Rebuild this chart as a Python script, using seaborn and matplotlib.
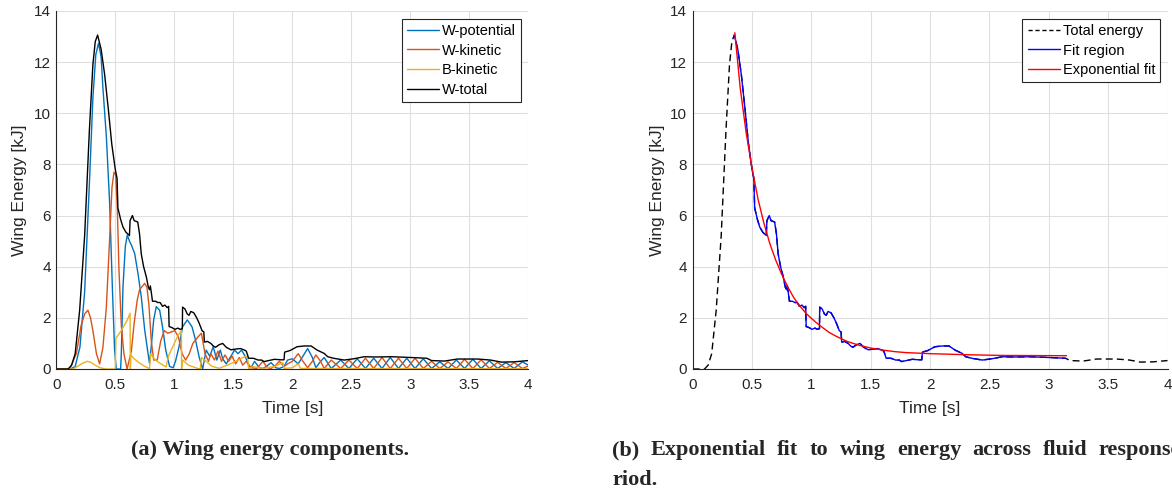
import matplotlib
matplotlib.use("Agg")
import matplotlib.pyplot as plt
import numpy as np
import pandas as pd
import seaborn as sns

# wing total energy [kJ] vs time [s]
w_total = [(0, 0), (0.10, 0), (0.13, 0.15), (0.16, 0.6), (0.198, 2.3), (0.24, 5.2), (0.28, 9.3),
           (0.31, 11.9), (0.33, 12.8), (0.35, 13.06), (0.38, 12.5), (0.41, 11.5), (0.44, 10.2),
           (0.47, 8.8), (0.50, 7.8), (0.515, 7.45), (0.522, 6.3), (0.545, 5.85), (0.565, 5.55),
           (0.59, 5.35), (0.62, 5.22), (0.625, 5.8), (0.645, 6.0), (0.66, 5.8), (0.69, 5.75),
           (0.705, 5.3), (0.72, 4.5), (0.74, 4.0), (0.763, 3.6), (0.78, 3.2), (0.79, 3.1),
           (0.797, 3.25), (0.805, 3.0), (0.815, 2.65), (0.84, 2.65), (0.86, 2.6), (0.88, 2.6),
           (0.90, 2.45), (0.92, 2.5), (0.94, 2.4), (0.952, 2.45), (0.956, 1.66), (0.98, 1.62),
           (1.005, 1.55), (1.03, 1.6), (1.05, 1.55), (1.068, 1.58), (1.07, 2.42), (1.09, 2.35),
           (1.11, 2.15), (1.125, 2.1), (1.14, 2.25), (1.165, 2.2), (1.19, 2.0), (1.21, 1.8),
           (1.235, 1.5), (1.25, 1.45), (1.255, 1.05), (1.28, 1.08), (1.31, 1.0), (1.33, 0.9),
           (1.35, 0.85), (1.38, 0.95), (1.41, 1.0), (1.44, 0.85), (1.48, 0.75), (1.52, 0.78),
           (1.56, 0.8), (1.59, 0.75), (1.61, 0.7), (1.63, 0.42), (1.67, 0.42), (1.71, 0.35),
           (1.74, 0.35), (1.76, 0.29), (1.80, 0.33), (1.85, 0.38), (1.90, 0.36), (1.93, 0.36),
           (1.935, 0.66), (1.98, 0.72), (2.04, 0.87), (2.10, 0.9), (2.16, 0.9), (2.21, 0.74),
           (2.27, 0.61), (2.30, 0.48), (2.35, 0.42), (2.44, 0.35), (2.52, 0.4), (2.61, 0.48),
           (2.70, 0.47), (2.84, 0.48), (2.95, 0.46), (3.05, 0.44), (3.14, 0.42), (3.18, 0.33),
           (3.29, 0.31), (3.40, 0.39), (3.57, 0.39), (3.68, 0.35), (3.77, 0.27), (3.88, 0.28),
           (4.0, 0.33)]

w_potential = [(0, 0), (0.12, 0), (0.16, 0.1), (0.20, 0.85), (0.24, 3.0), (0.28, 7.2), (0.31, 10.6),
               (0.335, 12.3), (0.358, 12.74), (0.38, 12.2), (0.395, 11.0), (0.424, 9.1), (0.452, 6.5),
               (0.475, 3.2), (0.494, 0.75), (0.508, 0), (0.545, 0), (0.551, 0.6), (0.565, 3.2),
               (0.585, 4.8), (0.602, 5.24), (0.62, 5.0), (0.636, 4.85), (0.664, 4.52), (0.692, 3.74),
               (0.72, 2.83), (0.749, 1.53), (0.777, 0.62), (0.79, 0.22), (0.805, 0.9), (0.825, 1.91),
               (0.847, 2.44), (0.876, 2.3), (0.90, 1.65), (0.927, 0.75), (0.96, 0.1), (0.99, 0.05),
               (1.01, 0.3), (1.04, 0.87), (1.07, 1.65), (1.11, 1.92), (1.15, 1.65), (1.18, 1.13),
               (1.21, 0.48), (1.24, 0.0), (1.27, 0.74), (1.30, 0.5), (1.33, 0.87), (1.36, 0.35),
               (1.39, 0.74), (1.41, 0.4), (1.44, 0.2), (1.48, 0.5), (1.51, 0.74), (1.54, 0.6),
               (1.57, 0.74), (1.60, 0.5), (1.63, 0.15), (1.65, 0.05), (1.68, 0.3), (1.72, 0.05),
               (1.75, 0.02), (1.78, 0.1), (1.82, 0.25), (1.86, 0.05), (1.89, 0.02), (1.93, 0.1),
               (1.96, 0.35), (2.00, 0.4), (2.05, 0.2), (2.09, 0.5), (2.13, 0.8), (2.17, 0.45),
               (2.20, 0.05), (2.24, 0.3), (2.27, 0.45), (2.33, 0.02), (2.41, 0.35), (2.48, 0.02),
               (2.55, 0.4), (2.62, 0.02), (2.69, 0.42), (2.76, 0.02), (2.83, 0.45), (2.90, 0.02),
               (2.97, 0.42), (3.04, 0.02), (3.11, 0.4), (3.18, 0.02), (3.25, 0.28), (3.32, 0.02),
               (3.39, 0.35), (3.46, 0.02), (3.53, 0.38), (3.60, 0.02), (3.67, 0.32), (3.74, 0.02),
               (3.81, 0.25), (3.88, 0.02), (3.95, 0.28), (4.0, 0.15)]

w_kinetic = [(0, 0), (0.113, 0), (0.17, 0.6), (0.21, 1.7), (0.24, 2.15), (0.268, 2.3), (0.29, 2.0),
             (0.31, 1.5), (0.34, 0.6), (0.367, 0.2), (0.395, 0.84), (0.424, 2.4), (0.452, 5.1),
             (0.472, 7.1), (0.489, 7.7), (0.503, 7.6), (0.517, 6.3), (0.531, 3.9), (0.551, 1.7),
             (0.573, 0.6), (0.60, 0.0), (0.636, 0.7), (0.66, 1.8), (0.686, 2.7), (0.706, 3.1),
             (0.749, 3.35), (0.768, 3.2), (0.785, 2.5), (0.805, 1.1), (0.825, 0.35), (0.855, 0.35),
             (0.885, 1.1), (0.915, 1.5), (0.945, 1.4), (0.975, 1.45), (1.005, 1.5), (1.035, 1.25),
             (1.066, 0.6), (1.096, 0.35), (1.127, 0.6), (1.157, 1.0), (1.20, 1.25), (1.23, 1.4),
             (1.26, 0.6), (1.29, 0.3), (1.31, 0.6), (1.34, 0.35), (1.37, 0.7), (1.40, 0.3),
             (1.43, 0.55), (1.46, 0.3), (1.49, 0.5), (1.52, 0.2), (1.55, 0.45), (1.58, 0.15),
             (1.61, 0.3), (1.65, 0.05), (1.70, 0.02), (1.75, 0.3), (1.79, 0.05), (1.82, 0.02),
             (1.86, 0.15), (1.89, 0.3), (1.93, 0.1), (1.96, 0.2), (2.00, 0.3), (2.05, 0.6),
             (2.09, 0.3), (2.13, 0.05), (2.17, 0.3), (2.20, 0.55), (2.24, 0.3), (2.27, 0.02),
             (2.33, 0.35), (2.41, 0.02), (2.48, 0.35), (2.55, 0.02), (2.62, 0.42), (2.69, 0.02),
             (2.76, 0.45), (2.83, 0.02), (2.90, 0.42), (2.97, 0.02), (3.04, 0.42), (3.11, 0.02),
             (3.18, 0.3), (3.25, 0.02), (3.32, 0.28), (3.39, 0.02), (3.46, 0.38), (3.53, 0.02),
             (3.60, 0.36), (3.67, 0.02), (3.74, 0.26), (3.81, 0.02), (3.88, 0.25), (3.95, 0.02),
             (4.0, 0.12)]

b_kinetic = [(0, 0), (0.14, 0), (0.18, 0.1), (0.22, 0.22), (0.26, 0.3), (0.29, 0.27), (0.33, 0.15),
             (0.37, 0.05), (0.42, 0.0), (0.50, 0.0), (0.505, 1.2), (0.55, 1.5), (0.60, 1.9),
             (0.625, 2.18), (0.628, 0.0), (0.632, 0.55), (0.66, 0.4), (0.70, 0.25), (0.75, 0.1),
             (0.79, 0.02), (0.80, 0.6), (0.83, 0.4), (0.87, 0.25), (0.93, 0.08), (0.95, 0.5),
             (0.99, 0.9), (1.03, 1.3), (1.06, 1.5), (1.062, 0.0), (1.07, 0.35), (1.12, 0.15),
             (1.20, 0.02), (1.22, 0.0), (1.23, 0.45), (1.27, 0.3), (1.32, 0.1), (1.38, 0.03),
             (1.45, 0.15), (1.52, 0.3), (1.58, 0.45), (1.62, 0.5), (1.63, 0.0), (1.66, 0.1),
             (1.75, 0.02), (1.85, 0.1), (1.92, 0.25), (1.93, 0.02), (2.0, 0.05), (2.05, 0.2),
             (2.07, 0.02), (2.2, 0.02), (4.0, 0.01)]

exp_fit = [(0.355, 13.15), (0.40, 11.0), (0.45, 9.25), (0.50, 7.85), (0.55, 6.65), (0.60, 5.7),
           (0.65, 4.9), (0.70, 4.25), (0.75, 3.7), (0.80, 3.22), (0.85, 2.8), (0.90, 2.48),
           (0.95, 2.2), (1.00, 1.98), (1.05, 1.78), (1.10, 1.6), (1.15, 1.43), (1.20, 1.3),
           (1.30, 1.08), (1.40, 0.93), (1.50, 0.82), (1.60, 0.74), (1.70, 0.68), (1.80, 0.64),
           (1.90, 0.62), (2.00, 0.6), (2.30, 0.56), (2.60, 0.53), (3.15, 0.52)]

fit_start = 0.35
fit_end = 3.14

x_ticks = [0, 0.5, 1, 1.5, 2, 2.5, 3, 3.5, 4]
x_tick_labels = ["0", "0.5", "1", "1.5", "2", "2.5", "3", "3.5", "4"]
y_ticks = [0, 2, 4, 6, 8, 10, 12, 14]

caption_a = "(a) Wing energy components."
caption_b1 = "(b) Exponential fit to wing energy across fluid response pe-"
caption_b2 = "riod."


def to_df(pairs):
    return pd.DataFrame(pairs, columns=["t", "E"])


sns.set_theme(style="whitegrid")
plt.rcParams["font.family"] = ["Liberation Sans", "DejaVu Sans"]
plt.rcParams["axes.edgecolor"] = "#262626"

W, H = 1172, 491
fig = plt.figure(figsize=(W / 100, H / 100), dpi=100)
ax1 = fig.add_axes([56.3 / W, 122 / H, 472 / W, 358 / H])
ax2 = fig.add_axes([692.7 / W, 122 / H, 474.8 / W, 358 / H])

df_tot = to_df(w_total)

# (a) energy components
sns.lineplot(data=to_df(w_potential), x="t", y="E", ax=ax1, color="#0072BD", lw=1, estimator=None, label="W-potential")
sns.lineplot(data=to_df(w_kinetic), x="t", y="E", ax=ax1, color="#D95319", lw=1, estimator=None, label="W-kinetic")
sns.lineplot(data=to_df(b_kinetic), x="t", y="E", ax=ax1, color="#EDB120", lw=1, estimator=None, label="B-kinetic")
sns.lineplot(data=df_tot, x="t", y="E", ax=ax1, color="black", lw=1, estimator=None, label="W-total")

# (b) exponential fit
df_fit = df_tot[(df_tot.t >= fit_start) & (df_tot.t <= fit_end)]
sns.lineplot(data=df_tot, x="t", y="E", ax=ax2, color="black", lw=1, estimator=None, label="Total energy")
ax2.lines[-1].set_dashes((5, 3))
sns.lineplot(data=df_fit, x="t", y="E", ax=ax2, color="#0000FF", lw=1, estimator=None, label="Fit region")
sns.lineplot(data=to_df(exp_fit), x="t", y="E", ax=ax2, color="#FF0000", lw=1, estimator=None, label="Exponential fit")

for ax, ylab_x in ((ax1, -0.062), (ax2, -0.058)):
    ax.set_xlim(0, 4)
    ax.set_ylim(0, 14)
    ax.set_xticks(x_ticks)
    ax.set_xticklabels(x_tick_labels)
    ax.set_yticks(y_ticks)
    ax.grid(True, color="#DFDFDF", lw=0.8)
    ax.set_facecolor("white")
    for s in ("top", "right"):
        ax.spines[s].set_visible(False)
    for s in ("left", "bottom"):
        ax.spines[s].set_color("#262626")
        ax.spines[s].set_linewidth(0.8)
    ax.tick_params(axis="both", direction="in", length=4, width=0.8, color="#262626",
                   labelcolor="#262626", labelsize=11)
    ax.tick_params(axis="x", pad=6.5)
    ax.tick_params(axis="y", pad=4)
    ax.set_xlabel("Time [s]", fontsize=12.5, color="#262626")
    ax.set_ylabel("Wing Energy [kJ]", fontsize=12.5, color="#262626")
    ax.yaxis.set_label_coords(ylab_x, 0.5)
    ax.xaxis.set_label_coords(0.5, -0.09)
    leg = ax.legend(loc="upper right", bbox_to_anchor=(0.9845, 0.978), borderaxespad=0,
                    fontsize=10.5, frameon=True, fancybox=False, shadow=False,
                    handlelength=2.2, handletextpad=0.2, labelspacing=0.38, borderpad=0.35)
    leg.get_frame().set_edgecolor("#262626")
    leg.get_frame().set_linewidth(0.8)
    leg.get_frame().set_alpha(1)
    for txt in leg.get_texts():
        txt.set_color("black")

# dashed legend handle for total energy
ax2.get_legend().get_lines()[0].set_dashes((3, 2))

cap = dict(family=["Liberation Serif", "DejaVu Serif"], fontweight="bold", fontsize=16, va="baseline")
fig.text(270 / W, 1 - 455 / H, caption_a, ha="center", **cap)


# justified first line of caption (b), running past the right edge like the source
def justified(text, x0, x1, y, **kw):
    r = fig.canvas.get_renderer()
    words = text.split(" ")
    ts = [fig.text(0, y, w, ha="left", **kw) for w in words]
    widths = [t.get_window_extent(r).width for t in ts]
    gap = (x1 - x0 - sum(widths)) / (len(words) - 1)
    x = x0
    for t, w in zip(ts, widths):
        t.set_x(x / W)
        x += w + gap


justified(caption_b1, 612, 1222, 1 - 455 / H, **cap)
fig.text(612 / W, 1 - 485 / H, caption_b2, ha="left", **cap)

fig.savefig("out.png", dpi=100)
